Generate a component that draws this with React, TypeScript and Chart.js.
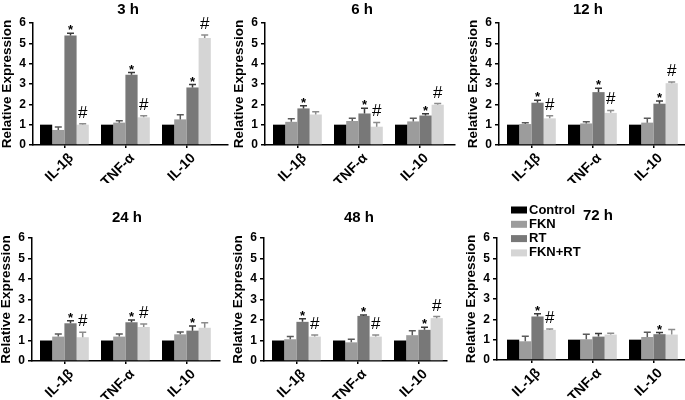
import React, { useEffect, useRef } from 'react';
import { Chart, registerables } from 'chart.js';

Chart.register(...registerables);
Chart.defaults.font.family = "'Liberation Sans', Arial, sans-serif";

// ---------- data ----------
const categories = ['IL-1β', 'TNF-α', 'IL-10'];
const groupLabels = ['Control', 'FKN', 'RT', 'FKN+RT'];
const groupColors = ['#000000', '#9c9c9c', '#787878', '#d5d5d5'];
const errorColors = ['#000000', '#5a5a5a', '#3a3a3a', '#8c8c8c'];
const yTicks = [0, 1, 2, 3, 4, 5, 6];
const timeTitles = ['3 h', '6 h', '12 h', '24 h', '48 h', '72 h'];

// rows: Control, FKN, RT, FKN+RT ; columns: IL-1β, TNF-α, IL-10
const means3h = [[1, 1, 1], [0.74, 1.1, 1.26], [5.38, 3.45, 2.83], [1.0, 1.36, 5.26]];
const errs3h = [[0, 0, 0], [0.14, 0.09, 0.23], [0.12, 0.11, 0.14], [0.05, 0.08, 0.15]];
const stars3h = [true, true, true];
const hashes3h = [true, true, true];

const means6h = [[1, 1, 1], [1.14, 1.18, 1.16], [1.8, 1.55, 1.45], [1.5, 0.9, 1.98]];
const errs6h = [[0, 0, 0], [0.15, 0.13, 0.15], [0.13, 0.26, 0.09], [0.13, 0.21, 0.06]];
const stars6h = [true, true, true];
const hashes6h = [false, true, true];

const means12h = [[1, 1, 1], [1.03, 1.06, 1.1], [2.08, 2.6, 2.03], [1.31, 1.58, 3.04]];
const errs12h = [[0, 0, 0], [0.06, 0.08, 0.21], [0.12, 0.19, 0.13], [0.13, 0.12, 0.06]];
const stars12h = [true, true, true];
const hashes12h = [true, true, true];

const means24h = [[1, 1, 1], [1.19, 1.19, 1.3], [1.84, 1.89, 1.48], [1.16, 1.66, 1.62]];
const errs24h = [[0, 0, 0], [0.13, 0.13, 0.12], [0.12, 0.11, 0.23], [0.24, 0.15, 0.24]];
const stars24h = [true, true, true];
const hashes24h = [true, true, false];

const means48h = [[1, 1, 1], [1.06, 0.91, 1.26], [1.91, 2.2, 1.52], [1.19, 1.19, 2.09]];
const errs48h = [[0, 0, 0], [0.13, 0.15, 0.21], [0.15, 0.05, 0.13], [0.08, 0.08, 0.08]];
const stars48h = [true, true, true];
const hashes48h = [true, true, true];

const means72h = [[1, 1, 1], [0.92, 1.02, 1.13], [2.14, 1.15, 1.27], [1.48, 1.25, 1.25]];
const errs72h = [[0, 0, 0], [0.25, 0.25, 0.24], [0.13, 0.15, 0.08], [0.05, 0.07, 0.25]];
const stars72h = [true, false, true];
const hashes72h = [true, false, false];

// ---------- layout (page pixel positions) ----------
const W = 685;
const H = 400;
const GROUP_SPACING = 61;
const X_AXIS_H = 38;

const panels = [
  { title: timeTitles[0], means: means3h, errs: errs3h, stars: stars3h, hashes: hashes3h, axisX: 33, firstBar: 40, right: 228, top: 23, zero: 145, titleX: 128, titleY: 10, legend: false },
  { title: timeTitles[1], means: means6h, errs: errs6h, stars: stars6h, hashes: hashes6h, axisX: 265, firstBar: 273, right: 455, top: 23, zero: 145, titleX: 362, titleY: 10, legend: false },
  { title: timeTitles[2], means: means12h, errs: errs12h, stars: stars12h, hashes: hashes12h, axisX: 499, firstBar: 507, right: 685, top: 23, zero: 145, titleX: 588, titleY: 10, legend: false },
  { title: timeTitles[3], means: means24h, errs: errs24h, stars: stars24h, hashes: hashes24h, axisX: 32, firstBar: 40, right: 220, top: 238, zero: 361, titleX: 127, titleY: 218, legend: false },
  { title: timeTitles[4], means: means48h, errs: errs48h, stars: stars48h, hashes: hashes48h, axisX: 264, firstBar: 272, right: 447, top: 238, zero: 361, titleX: 359, titleY: 218, legend: false },
  { title: timeTitles[5], means: means72h, errs: errs72h, stars: stars72h, hashes: hashes72h, axisX: 497, firstBar: 507, right: 685, top: 238, zero: 360, titleX: 598, titleY: 216, legend: true },
];

// ---------- plugins ----------
const errorBarPlugin = {
  id: 'errorBars',
  afterDatasetsDraw(chart: any) {
    const ctx = chart.ctx;
    const yScale = chart.scales.y;
    chart.data.datasets.forEach((ds: any, di: number) => {
      const meta = chart.getDatasetMeta(di);
      meta.data.forEach((bar: any, i: number) => {
        const v = ds.data[i].y;
        const e = ds.errors ? ds.errors[i] : 0;
        const yTop = yScale.getPixelForValue(v + (e || 0));
        if (e) {
          ctx.save();
          ctx.strokeStyle = ds.errorColor;
          ctx.lineWidth = 1.5;
          ctx.beginPath();
          ctx.moveTo(bar.x, bar.y);
          ctx.lineTo(bar.x, yTop);
          ctx.moveTo(bar.x - 3.5, yTop);
          ctx.lineTo(bar.x + 3.5, yTop);
          ctx.stroke();
          ctx.restore();
        }
        const m = ds.marks ? ds.marks[i] : '';
        if (m) {
          ctx.save();
          ctx.fillStyle = '#000';
          ctx.textAlign = 'center';
          ctx.textBaseline = 'alphabetic';
          if (m === '*') {
            ctx.font = "bold 13px 'Liberation Sans', Arial, sans-serif";
            ctx.fillText(m, bar.x, yTop + 1);
          } else {
            ctx.font = "17px 'Liberation Sans', Arial, sans-serif";
            ctx.fillText(m, bar.x, yTop - 6);
          }
          ctx.restore();
        }
      });
    });
  },
};

const panelTitlePlugin = {
  id: 'panelTitle',
  afterDraw(chart: any, _args: any, opts: any) {
    const ctx = chart.ctx;
    ctx.save();
    ctx.fillStyle = '#000';
    ctx.font = "bold 15px 'Liberation Sans', Arial, sans-serif";
    ctx.textAlign = 'center';
    ctx.textBaseline = 'middle';
    ctx.fillText(opts.text, opts.x, opts.y);
    ctx.restore();
  },
};

const boxLegendPlugin = {
  id: 'boxLegend',
  afterDraw(chart: any, _args: any, opts: any) {
    if (!opts || !opts.show) return;
    const ctx = chart.ctx;
    ctx.save();
    ctx.font = "bold 13px 'Liberation Sans', Arial, sans-serif";
    ctx.textAlign = 'left';
    ctx.textBaseline = 'middle';
    chart.data.datasets.forEach((ds: any, i: number) => {
      const cy = opts.y + i * opts.step;
      ctx.fillStyle = ds.backgroundColor;
      ctx.fillRect(opts.x, cy - 3.5, 16, 7);
      ctx.fillStyle = '#000';
      ctx.fillText(ds.label, opts.x + 18, cy);
    });
    ctx.restore();
  },
};

function buildConfig(p: any): any {
  const datasets = groupLabels.map((label, gi) => ({
    label,
    data: categories.map((_, ci) => ({ x: ci, y: p.means[gi][ci] })),
    backgroundColor: groupColors[gi],
    borderWidth: 0,
    errors: p.errs[gi],
    errorColor: errorColors[gi],
    marks:
      gi === 2
        ? p.stars.map((s: boolean) => (s ? '*' : ''))
        : gi === 3
        ? p.hashes.map((h: boolean) => (h ? '#' : ''))
        : [],
  }));
  const xMin = -0.4 - (p.firstBar - p.axisX) / GROUP_SPACING;
  const xMax = xMin + (p.right - p.axisX) / GROUP_SPACING;
  const axisFont = { size: 12, weight: 'bold' as const };
  return {
    type: 'bar',
    data: { datasets },
    plugins: [errorBarPlugin, panelTitlePlugin, boxLegendPlugin],
    options: {
      responsive: false,
      animation: false,
      events: [],
      layout: {
        padding: { left: p.axisX - 32.5, top: p.top, right: W - p.right, bottom: H - p.zero - X_AXIS_H },
      },
      datasets: { bar: { categoryPercentage: 0.8, barPercentage: 1 } },
      plugins: {
        legend: { display: false },
        tooltip: { enabled: false },
        title: { display: false },
        panelTitle: { text: p.title, x: p.titleX, y: p.titleY },
        boxLegend: { show: p.legend, x: 511, y: 210, step: 14.3 },
      },
      scales: {
        x: {
          type: 'linear',
          offset: false,
          min: xMin,
          max: xMax,
          afterBuildTicks: (s: any) => {
            s.ticks = categories.map((_, i) => ({ value: i }));
          },
          afterFit: (s: any) => {
            s.height = X_AXIS_H;
          },
          grid: { display: true, offset: false, drawOnChartArea: false, drawTicks: true, tickLength: 3, color: '#000', lineWidth: 1.5 },
          border: { display: true, color: '#000', width: 1.5 },
          ticks: {
            autoSkip: false,
            minRotation: 45,
            maxRotation: 45,
            padding: 2,
            labelOffset: 7,
            color: '#000',
            font: { size: 14, weight: 'bold' },
            callback: (v: any) => categories[v] ?? '',
          },
        },
        y: {
          min: 0,
          max: 6,
          afterBuildTicks: (s: any) => {
            s.ticks = yTicks.map((v) => ({ value: v }));
          },
          afterFit: (s: any) => {
            s.width = 32.5;
          },
          grid: { display: true, drawOnChartArea: false, drawTicks: true, tickLength: 4, color: '#000', lineWidth: 1.5 },
          border: { display: true, color: '#000', width: 1.5 },
          ticks: { padding: 3, color: '#000', font: axisFont },
          title: {
            display: true,
            text: 'Relative Expression',
            color: '#000',
            padding: 0,
            font: { size: 13.5, weight: 'bold', lineHeight: 1 },
          },
        },
      },
    },
  };
}

function Panel({ p }: { p: any }) {
  const ref = useRef<HTMLCanvasElement | null>(null);
  useEffect(() => {
    if (!ref.current) return;
    const chart = new Chart(ref.current, buildConfig(p));
    return () => chart.destroy();
  }, [p]);
  return (
    <canvas
      ref={ref}
      width={W}
      height={H}
      style={{ position: 'absolute', left: 0, top: 0, width: W, height: H }}
    />
  );
}

export default function App() {
  return (
    <div style={{ position: 'absolute', left: 0, top: 0, width: W, height: H, background: '#fff', overflow: 'hidden' }}>
      {panels.map((p, i) => (
        <Panel key={i} p={p} />
      ))}
    </div>
  );
}
